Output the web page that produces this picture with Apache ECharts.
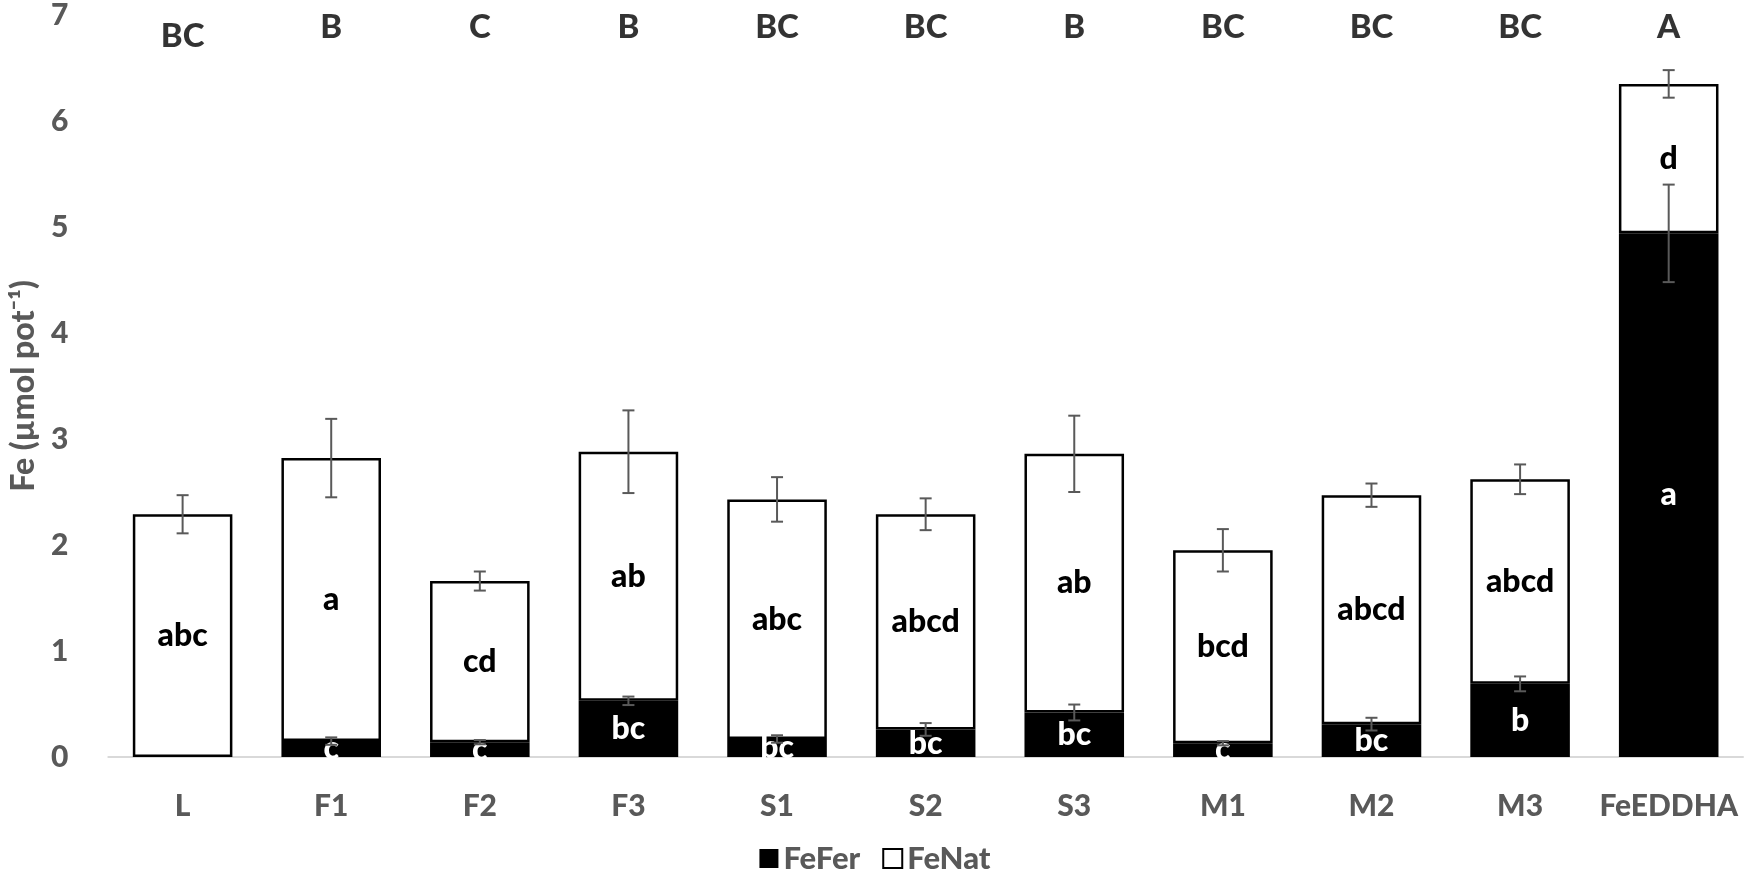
<!DOCTYPE html>
<html>
<head>
<meta charset="utf-8">
<script src="https://cdn.jsdelivr.net/npm/echarts@6/dist/echarts.min.js"></script>
<style>
  html, body { margin: 0; padding: 0; background: #fff; }
  #chart { width: 1750px; height: 881px; }
</style>
</head>
<body>
<div id="chart"></div>
<script>
const categories = ['L', 'F1', 'F2', 'F3', 'S1', 'S2', 'S3', 'M1', 'M2', 'M3', 'FeEDDHA']
const feFer = [0, 0.15, 0.14, 0.53, 0.17, 0.26, 0.42, 0.13, 0.31, 0.69, 4.94]
const feNat = [2.29, 2.67, 1.52, 2.35, 2.26, 2.03, 2.44, 1.82, 2.16, 1.93, 1.41]
const feFerErr = [0, 0.035, 0.02, 0.04, 0.035, 0.06, 0.075, 0.02, 0.06, 0.07, 0.46]
const totalErr = [0.18, 0.37, 0.09, 0.39, 0.21, 0.15, 0.36, 0.2, 0.11, 0.14, 0.13]
const ferLetters = ['', 'c', 'c', 'bc', 'bc', 'bc', 'bc', 'c', 'bc', 'b', 'a']
const natLetters = ['abc', 'a', 'cd', 'ab', 'abc', 'abcd', 'ab', 'bcd', 'abcd', 'abcd', 'd']
const topLetters = ['BC', 'B', 'C', 'B', 'BC', 'BC', 'B', 'BC', 'BC', 'BC', 'A']
const yTicks = [0, 7, 1] // min, max, interval

const FONT = 'Lato, "Open Sans", sans-serif'
const W = 900
const GRAY = '#595959'

// error bar drawing: data item = [categoryIndex, value, err]
function errorBar(params, api) {
	const err = api.value(2)
	if (!err) return null
	const x = api.value(0)
	const hi = api.coord([x, api.value(1) + err])
	const lo = api.coord([x, api.value(1) - err])
	const cap = 6
	const style = { stroke: GRAY, lineWidth: 2 }
	return {
		type: 'group',
		children: [
			{ type: 'line', shape: { x1: hi[0], y1: hi[1], x2: lo[0], y2: lo[1] }, style },
			{ type: 'line', shape: { x1: hi[0] - cap, y1: hi[1], x2: hi[0] + cap, y2: hi[1] }, style },
			{ type: 'line', shape: { x1: lo[0] - cap, y1: lo[1], x2: lo[0] + cap, y2: lo[1] }, style },
		],
	}
}

const chart = echarts.init(document.getElementById('chart'))
const option = {
	animation: false,
	textStyle: { fontFamily: FONT },
	grid: { left: 100, right: 7, top: 12, bottom: 124, containLabel: false },
	legend: {
		data: ['FeFer', 'FeNat'],
		left: 'center',
		bottom: 2,
		icon: 'rect',
		itemWidth: 19,
		itemHeight: 19,
		itemGap: 22,
		textStyle: { fontSize: 31, fontWeight: W, color: GRAY, fontFamily: FONT },
	},
	xAxis: {
		type: 'category',
		data: categories,
		axisLine: { lineStyle: { color: '#d9d9d9', width: 2 } },
		axisTick: { show: false },
		axisLabel: { interval: 0, fontSize: 30, fontWeight: W, color: GRAY, margin: 34, fontFamily: FONT },
	},
	yAxis: {
		type: 'value',
		min: yTicks[0],
		max: yTicks[1],
		interval: yTicks[2],
		name: 'Fe (µmol pot⁻¹)',
		nameLocation: 'middle',
		nameGap: 62,
		nameTextStyle: { fontSize: 32, fontWeight: W, color: GRAY, fontFamily: FONT },
		axisLine: { show: false },
		axisTick: { show: false },
		splitLine: { show: false },
		axisLabel: { fontSize: 30, fontWeight: W, color: GRAY, margin: 40, fontFamily: FONT },
	},
	series: [
		{
			name: 'FeFer',
			type: 'bar',
			stack: 'fe',
			barCategoryGap: '33%',
			data: feFer,
			itemStyle: { color: '#000', borderWidth: 0 },
			label: {
				show: true,
				position: 'inside',
				formatter: p => ferLetters[p.dataIndex],
				color: '#fff',
				fontSize: 32,
				fontWeight: W,
				fontFamily: FONT,
			},
		},
		{
			name: 'FeNat',
			type: 'bar',
			stack: 'fe',
			data: feNat,
			itemStyle: { color: '#fff', borderColor: '#000', borderWidth: 2.5 },
			label: {
				show: true,
				position: 'inside',
				formatter: p => natLetters[p.dataIndex],
				color: '#000',
				fontSize: 32,
				fontWeight: W,
				fontFamily: FONT,
			},
		},
		{
			name: 'ferErr',
			type: 'custom',
			renderItem: errorBar,
			data: feFer.map((v, i) => [i, v, feFerErr[i]]),
			z: 10,
		},
		{
			name: 'totalErr',
			type: 'custom',
			renderItem: errorBar,
			data: feNat.map((v, i) => [i, v + feFer[i], totalErr[i]]),
			z: 10,
		},
		{
			name: 'groups',
			type: 'scatter',
			symbolSize: 0,
			data: topLetters.map((t, i) => [i, i === 0 ? 6.8 : 6.88]),
			label: {
				show: true,
				position: 'inside',
				formatter: p => topLetters[p.dataIndex],
				color: '#000',
				fontSize: 33,
				fontWeight: W,
				fontFamily: FONT,
			},
		},
	],
}
chart.setOption(option)
</script>
</body>
</html>
